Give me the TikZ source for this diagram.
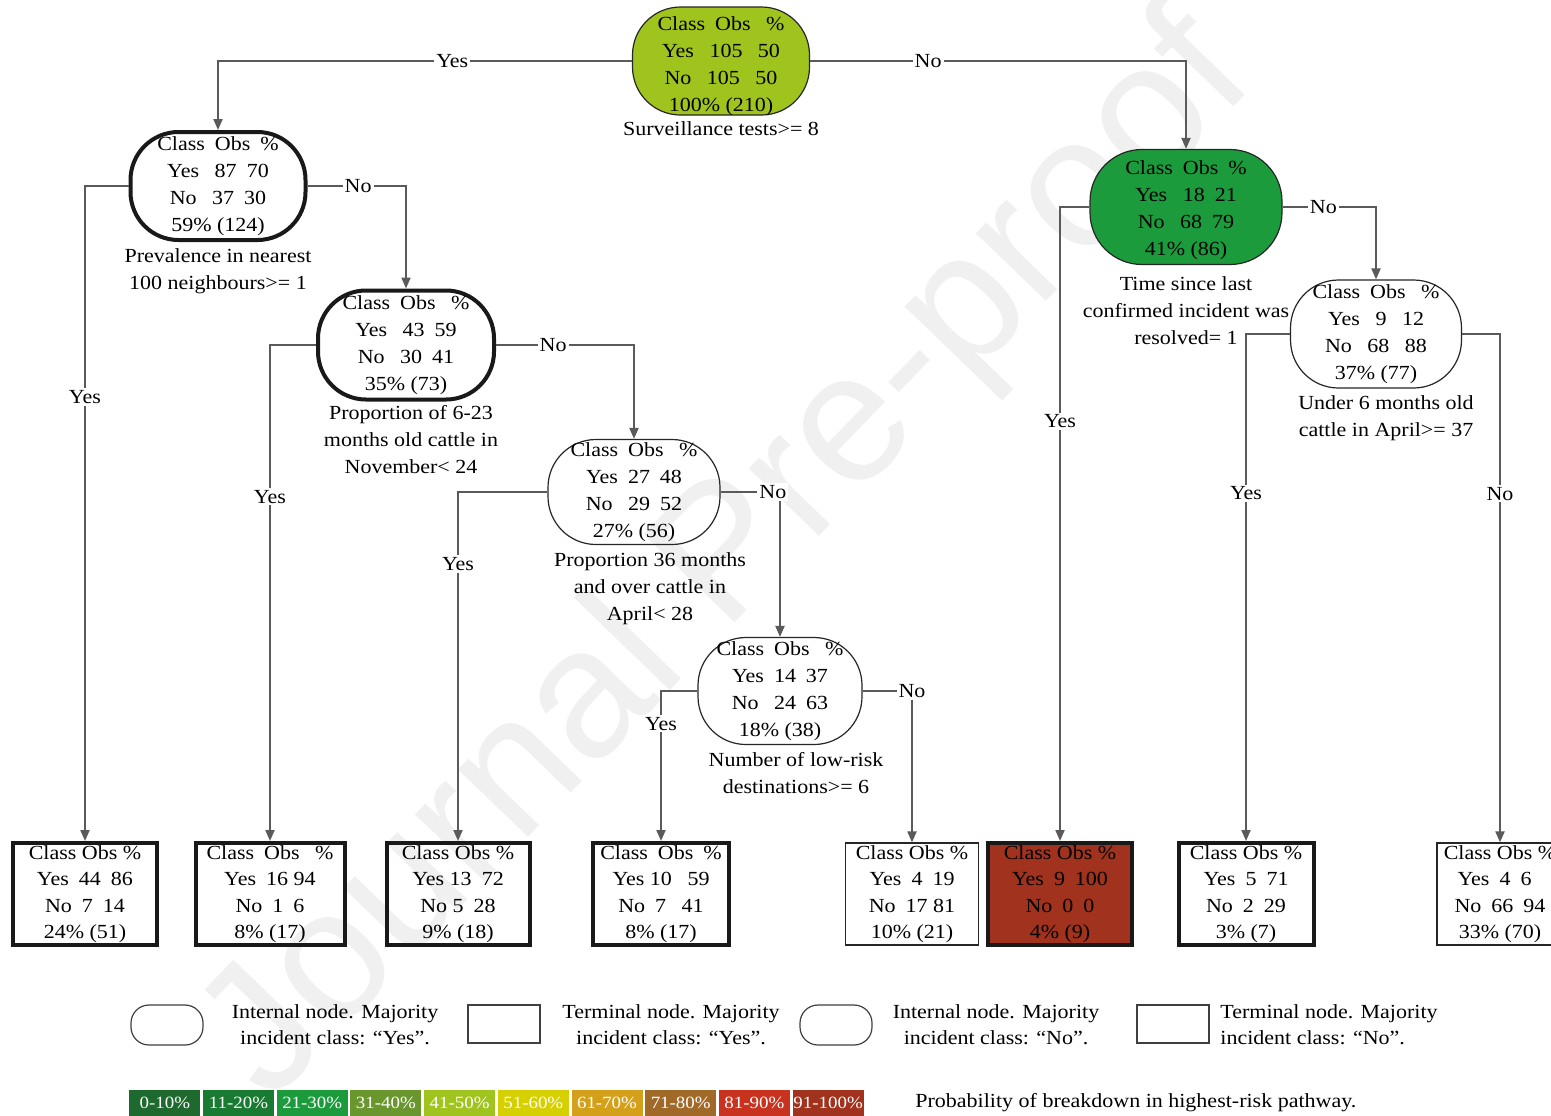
\documentclass[tikz,border=0pt]{standalone}
\usepackage{fontspec}
\setmainfont{Liberation Serif}[FakeStretch=1.1]
\setsansfont{Liberation Sans}
\usetikzlibrary{arrows.meta}
\definecolor{cA}{RGB}{30,105,45}
\definecolor{cB}{RGB}{25,122,50}
\definecolor{cC}{RGB}{28,155,60}
\definecolor{cD}{RGB}{105,150,45}
\definecolor{cE}{RGB}{160,196,30}
\definecolor{cF}{RGB}{214,208,0}
\definecolor{cG}{RGB}{212,160,25}
\definecolor{cH}{RGB}{160,105,40}
\definecolor{cI}{RGB}{200,50,30}
\definecolor{cJ}{RGB}{160,50,30}
\definecolor{edgegray}{RGB}{90,90,90}
\newcommand\fs{\fontsize{10}{13.5}\selectfont}
\newcommand\ft{\fontsize{10}{13.2}\selectfont}
\newcommand\lowtext[2]{\raisebox{#1}[\height][\depth]{\begin{tabular}{@{}c@{}}#2\end{tabular}}}
\tikzset{
  inode/.style={draw=black!85, line width=0.6pt, align=center, font=\fs, inner sep=0pt},
  tnode/.style={draw=black!85, line width=0.6pt, align=center, font=\ft, inner sep=0pt, minimum height=51pt},
  thick node/.style={line width=2pt, draw=black!90},
  edge/.style={draw=edgegray, line width=1pt, -{Triangle[length=5.5pt,width=4.5pt]}},
  elab/.style={fill=white, inner sep=1pt, font=\fs},
  dlabel/.style={align=center, font=\fs, inner sep=0pt},
  cell/.style={minimum width=36pt, minimum height=14pt, inner sep=0pt, text=white, font=\fontsize{8.6}{9}\selectfont, draw=white, line width=0.5pt},
}
\begin{document}
\begin{tikzpicture}[x=0.5pt,y=-0.5pt]
\useasboundingbox (0,0) rectangle (1551,1115);
\fill[white] (0,0) rectangle (1551,1115);
% watermark
\node[rotate=46, font=\fontsize{92}{92}\sffamily\selectfont, text=gray!12] (wm) at (730,560) {Journal Pre-proof};

% internal nodes
\node[inode, fill=cE, minimum width=88.5pt, minimum height=53.5pt, rounded corners=24pt] (root) at (721,61)
  {\lowtext{-2.5pt}{Class\enspace Obs\enspace\ \%\\Yes\enspace\ 105\enspace\ 50\\No\enspace\ 105\enspace\ 50\\100\% (210)}};
\node[dlabel] (rootl) at (721,129) {Surveillance tests>= 8};

\node[inode, thick node, minimum width=87.5pt, minimum height=54pt, rounded corners=24pt] (L1) at (218,186)
  {Class\enspace Obs\enspace\%\\Yes\enspace\ 87\enspace 70\\No\enspace\ 37\enspace 30\\59\% (124)};
\node[dlabel] (L1l) at (218,271) {Prevalence in nearest\\100 neighbours>= 1};

\node[inode, thick node, minimum width=88pt, minimum height=54.5pt, rounded corners=24pt] (L2) at (406,345)
  {Class\enspace Obs\enspace\ \%\\Yes\enspace\ 43\enspace 59\\No\enspace\ 30\enspace 41\\35\% (73)};
\node[dlabel] (L2l) at (411,440) {Proportion of 6-23\\months old cattle in\\November< 24};

\node[inode, minimum width=86pt, minimum height=52.5pt, rounded corners=24pt] (L3) at (634,492)
  {Class\enspace Obs\enspace\ \%\\Yes\enspace 27\enspace 48\\No\enspace\ 29\enspace 52\\27\% (56)};
\node[dlabel] (L3l) at (650,589) {Proportion 36 months\\and over cattle in\\April< 28};

\node[inode, minimum width=82pt, minimum height=53.5pt, rounded corners=24pt] (L4) at (780,691)
  {Class\enspace Obs\enspace\ \%\\Yes\enspace 14\enspace 37\\No\enspace\ 24\enspace 63\\18\% (38)};
\node[dlabel] (L4l) at (796,773) {Number of low-risk\\destinations>= 6};

\node[inode, fill=cC, minimum width=96pt, minimum height=57.5pt, rounded corners=26pt] (R1) at (1186,207)
  {\lowtext{-1.2pt}{Class\enspace Obs\enspace\%\\Yes\enspace\ 18\enspace 21\\No\enspace\ 68\enspace 79\\41\% (86)}};
\node[dlabel] (R1l) at (1186,311) {Time since last\\confirmed incident was\\resolved= 1};

\node[inode, minimum width=85.5pt, minimum height=54pt, rounded corners=24pt] (R2) at (1376,334)
  {Class\enspace Obs\enspace\ \%\\Yes\enspace\ 9\enspace\ 12\\No\enspace\ 68\enspace\ 88\\37\% (77)};
\node[dlabel] (R2l) at (1386,418) {Under 6 months old\\cattle in April>= 37};

% terminal nodes
\node[tnode, thick node, minimum width=72pt] (T1) at (85,894) {Class Obs \%\\Yes\enspace 44\enspace 86\\No\enspace 7\enspace 14\\24\% (51)};
\node[tnode, thick node, minimum width=74.5pt] (T2) at (270,894) {Class\enspace Obs\enspace\ \%\\Yes\enspace 16 94\\No\enspace 1\enspace 6\\8\% (17)};
\node[tnode, thick node, minimum width=71.5pt] (T3) at (458,894) {Class Obs \%\\Yes 13\enspace 72\\No 5\enspace 28\\9\% (18)};
\node[tnode, thick node, minimum width=68pt] (T4) at (661,894) {Class\enspace Obs\enspace \%\\Yes 10\enspace\ 59\\No\enspace 7\enspace\ 41\\8\% (17)};
\node[tnode, minimum width=66.5pt] (T5) at (912,894) {Class Obs \%\\Yes\enspace 4\enspace 19\\No\enspace 17 81\\10\% (21)};
\node[tnode, thick node, fill=cJ, minimum width=72pt] (T6) at (1060,894) {Class Obs \%\\Yes\enspace 9\enspace 100\\No\enspace 0\enspace 0\\4\% (9)};
\node[tnode, thick node, minimum width=67.5pt] (T7) at (1246,894) {Class Obs \%\\Yes\enspace 5\enspace 71\\No\enspace 2\enspace 29\\3\% (7)};
\node[tnode, minimum width=63pt] (T8) at (1500,894) {Class Obs \%\\Yes\enspace 4\enspace 6\phantom{0}\\No\enspace 66\enspace 94\\33\% (70)};

% connectors
\draw[edge] (root.west) -| node[elab, pos=0.217] (e1) {Yes} (L1.north);
\draw[edge] (root.east) -| node[elab, pos=0.157] (e2) {No} (R1.north);
\draw[edge] (L1.west) -| node[elab, pos=0.661] (e3) {Yes} (T1.north);
\draw[edge] (L1.east) -| node[elab, pos=0.257] (e4) {No} (L2.north);
\draw[edge] (L2.west) -| node[elab, pos=0.653] (e5) {Yes} (T2.north);
\draw[edge] (L2.east) -| node[elab, pos=0.207] (e6) {No} (L3.north);
\draw[edge] (L3.west) -| node[elab, pos=0.603] (e7) {Yes} (T3.north);
\draw[edge] (L3.east) -| node[elab, pos=0.44] (e8) {No} (L4.north);
\draw[edge] (L4.west) -| node[elab, pos=0.609] (e9) {Yes} (T4.north);
\draw[edge] (L4.east) -| node[elab, pos=0.5] (e10) {No} (T5.north);
\draw[edge] (R1.west) -| node[elab, pos=0.669] (e11) {Yes} (T6.north);
\draw[edge] (R1.east) -| node[elab, pos=0.218] (e12) {No} (R2.north);
\draw[edge] (R2.west) -| node[elab, pos=0.657] (e13) {Yes} (T7.north);
\draw[edge] (R2.east) -| node[elab, pos=0.657] (e14) {No} (T8.north);

% legend
\node[draw=black!75, line width=0.6pt, minimum width=36pt, minimum height=20pt, rounded corners=9pt, inner sep=0pt] (lg1) at (167,1025) {};
\node[dlabel, font=\fontsize{10}{13}\selectfont] (lg1t) at (335,1025) {Internal node. Majority\\incident class: “Yes”.};
\node[draw=black!75, line width=0.6pt, minimum width=36pt, minimum height=19pt, inner sep=0pt] (lg2) at (504,1024) {};
\node[dlabel, font=\fontsize{10}{13}\selectfont] (lg2t) at (671,1025) {Terminal node. Majority\\incident class: “Yes”.};
\node[draw=black!75, line width=0.6pt, minimum width=36pt, minimum height=20pt, rounded corners=9pt, inner sep=0pt] (lg3) at (836,1025) {};
\node[dlabel, font=\fontsize{10}{13}\selectfont] (lg3t) at (996,1025) {Internal node. Majority\\incident class: “No”.};
\node[draw=black!75, line width=0.6pt, minimum width=36pt, minimum height=19pt, inner sep=0pt] (lg4) at (1173,1024) {};
\node[dlabel, font=\fontsize{10}{13}\selectfont, align=left, anchor=west] (lg4t) at (1220,1025) {Terminal node. Majority\\incident class: “No”.};

% colour bar
\foreach \c/\t [count=\i from 0] in {cA/0-10\%, cB/11-20\%, cC/21-30\%, cD/31-40\%, cE/41-50\%, cF/51-60\%, cG/61-70\%, cH/71-80\%, cI/81-90\%, cJ/91-100\%}{
  \node[cell, fill=\c] (cb\i) at ({164.8+73.7*\i},1103) {\t};
}
\node[dlabel, anchor=west] (cbt) at (915,1103) {Probability of breakdown in highest-risk pathway.};
\end{tikzpicture}
\end{document}
